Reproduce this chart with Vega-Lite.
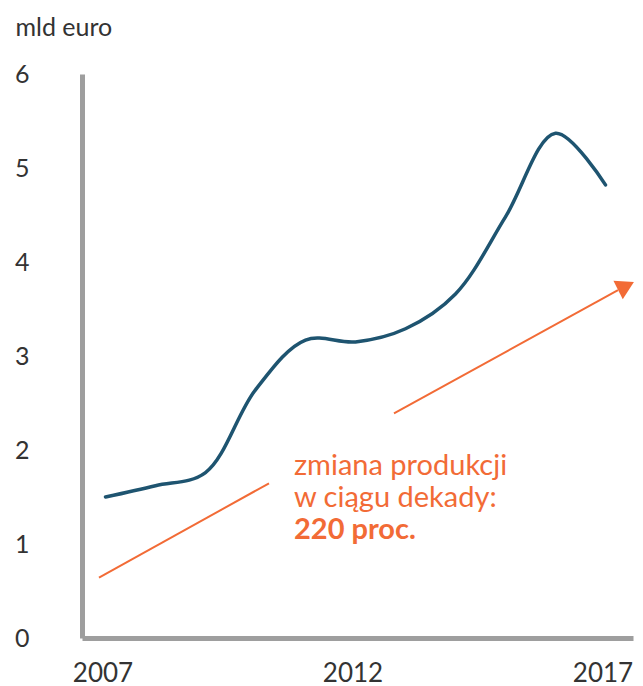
{
  "$schema": "https://vega.github.io/schema/vega-lite/v6.json",
  "autosize": "none",
  "width": 551,
  "height": 564,
  "padding": {"left": 82, "top": 74, "right": 10, "bottom": 48},
  "background": "white",
  "config": {
    "view": {"stroke": null},
    "font": "Lato",
    "axis": {"labelFont": "Lato", "titleFont": "Lato", "grid": false}
  },
  "datasets": {
    "production": [
      {"year": 2007, "value": 1.5},
      {"year": 2008, "value": 1.62},
      {"year": 2009, "value": 1.76},
      {"year": 2010, "value": 2.64},
      {"year": 2011, "value": 3.17},
      {"year": 2012, "value": 3.15},
      {"year": 2013, "value": 3.29},
      {"year": 2014, "value": 3.66},
      {"year": 2015, "value": 4.48},
      {"year": 2016, "value": 5.37},
      {"year": 2017, "value": 4.82}
    ],
    "arrows": [
      {"segment": "a", "year": 2006.87, "value": 0.641},
      {"segment": "a", "year": 2010.27, "value": 1.646},
      {"segment": "b", "year": 2012.77, "value": 2.39},
      {"segment": "b", "year": 2017.25, "value": 3.7}
    ],
    "arrowhead": [
      {"year": 2017.41, "value": 3.745}
    ],
    "note": [
      {"line": "zmiana produkcji", "year": 2010.77, "value": 1.734},
      {"line": "w ciągu dekady:", "year": 2010.77, "value": 1.394}
    ],
    "noteBold": [
      {"line": "220 proc.", "year": 2010.77, "value": 1.053}
    ]
  },
  "layer": [
    {
      "data": {"name": "production"},
      "mark": {"type": "line", "interpolate": "catmull-rom", "color": "#1e5470", "strokeWidth": 3.5, "strokeCap": "round"},
      "encoding": {
        "x": {
          "field": "year", "type": "quantitative",
          "scale": {"domain": [2006.53, 2017.55], "nice": false, "zero": false},
          "axis": {
            "values": [2007, 2012, 2017], "format": "d",
            "title": null,
            "domainColor": "#9e9e9e", "domainWidth": 5,
            "ticks": false, "tickSize": 0,
            "labelFontSize": 26, "labelColor": "#333333",
            "labelPadding": 22, "labelOffset": -3, "labelFlush": false
          }
        },
        "y": {
          "field": "value", "type": "quantitative",
          "scale": {"domain": [0, 6], "nice": false},
          "axis": {
            "values": [0, 1, 2, 3, 4, 5, 6], "format": "d",
            "title": "mld euro",
            "titleAngle": 0, "titleAlign": "left", "titleBaseline": "alphabetic",
            "titleX": -67, "titleY": -39,
            "titleFontSize": 25, "titleFontWeight": "normal", "titleColor": "#333333",
            "domainColor": "#9e9e9e", "domainWidth": 5,
            "ticks": false, "tickSize": 0,
            "labelFontSize": 25, "labelColor": "#333333",
            "labelPadding": 53, "labelFlush": false
          }
        }
      }
    },
    {
      "data": {"name": "arrows"},
      "mark": {"type": "line", "color": "#f26b36", "strokeWidth": 2},
      "encoding": {
        "x": {"field": "year", "type": "quantitative"},
        "y": {"field": "value", "type": "quantitative"},
        "detail": {"field": "segment"}
      }
    },
    {
      "data": {"name": "arrowhead"},
      "mark": {"type": "point", "shape": "triangle-up", "filled": true, "color": "#f26b36", "opacity": 1, "size": 420, "angle": 63},
      "encoding": {
        "x": {"field": "year", "type": "quantitative"},
        "y": {"field": "value", "type": "quantitative"}
      }
    },
    {
      "data": {"name": "note"},
      "mark": {"type": "text", "align": "left", "baseline": "alphabetic", "font": "Lato", "fontSize": 29, "color": "#f26b36"},
      "encoding": {
        "x": {"field": "year", "type": "quantitative"},
        "y": {"field": "value", "type": "quantitative"},
        "text": {"field": "line"}
      }
    },
    {
      "data": {"name": "noteBold"},
      "mark": {"type": "text", "align": "left", "baseline": "alphabetic", "font": "Lato", "fontSize": 29, "fontWeight": "bold", "color": "#f26b36"},
      "encoding": {
        "x": {"field": "year", "type": "quantitative"},
        "y": {"field": "value", "type": "quantitative"},
        "text": {"field": "line"}
      }
    }
  ]
}
